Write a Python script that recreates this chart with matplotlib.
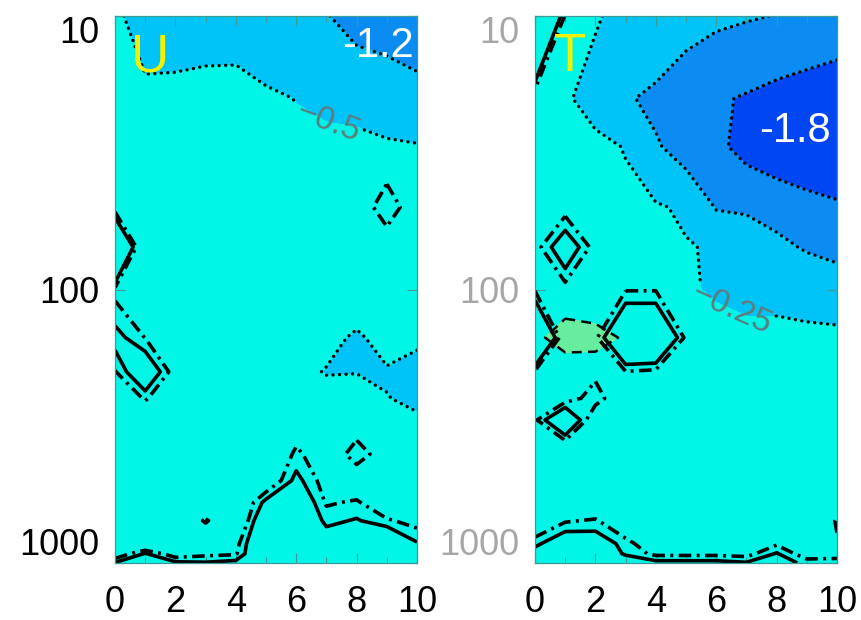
import numpy as np
import matplotlib
matplotlib.use("Agg")
import matplotlib.pyplot as plt
from matplotlib.ticker import FixedLocator, NullLocator, MultipleLocator

# ---- grid -------------------------------------------------------------
lags = [0, 1, 2, 3, 4, 5, 6, 7, 8, 9, 10]
pressure = [10, 20, 30, 50, 70, 100, 150, 200, 250, 300, 400, 500, 600, 700, 850, 925, 1000]

# ---- U anomaly (rows: pressure, cols: lag) ----------------------------
u_anom = [
    [-0.45, -0.62, -0.70, -0.72, -0.75, -0.78, -0.85, -0.98, -1.15, -1.20, -1.22],
    [-0.35, -0.43, -0.37, -0.30, -0.26, -0.43, -0.51, -0.58, -0.62, -0.70, -0.85],
    [-0.30, -0.30, -0.30, -0.28, -0.25, -0.30, -0.40, -0.40, -0.40, -0.45, -0.47],
    [-0.25, -0.25, -0.25, -0.22, -0.20, -0.22, -0.25, -0.30, -0.32, -0.35, -0.38],
    [-0.20, -0.20, -0.20, -0.20, -0.18, -0.20, -0.22, -0.25, -0.28, -0.30, -0.32],
    [-0.20, -0.20, -0.18, -0.18, -0.18, -0.20, -0.22, -0.25, -0.30, -0.30, -0.35],
    [-0.20, -0.20, -0.18, -0.18, -0.20, -0.22, -0.25, -0.40, -0.55, -0.38, -0.47],
    [-0.20, -0.20, -0.18, -0.18, -0.20, -0.25, -0.40, -0.52, -0.51, -0.53, -0.56],
    [-0.20, -0.20, -0.18, -0.18, -0.20, -0.22, -0.30, -0.35, -0.35, -0.49, -0.56],
    [-0.15, -0.15, -0.15, -0.15, -0.15, -0.18, -0.20, -0.25, -0.30, -0.40, -0.46],
    [-0.12, -0.12, -0.12, -0.12, -0.12, -0.15, -0.18, -0.20, -0.22, -0.28, -0.30],
    [-0.10, -0.10, -0.10, -0.10, -0.10, -0.12, -0.15, -0.15, -0.18, -0.20, -0.22],
    [-0.10, -0.10, -0.10, -0.10, -0.10, -0.10, -0.12, -0.12, -0.15, -0.15, -0.18],
    [-0.08, -0.08, -0.08, -0.08, -0.08, -0.10, -0.10, -0.10, -0.12, -0.12, -0.15],
    [-0.05, -0.05, -0.05, -0.05, -0.05, -0.08, -0.08, -0.08, -0.10, -0.10, -0.12],
    [-0.05, -0.05, -0.05, -0.05, -0.05, -0.05, -0.05, -0.08, -0.08, -0.10, -0.10],
    [-0.05, -0.05, -0.05, -0.05, -0.05, -0.05, -0.05, -0.05, -0.08, -0.08, -0.10],
]

# significance statistic for U
u_sig = [
    [1.00, 1.00, 1.00, 1.00, 1.00, 1.00, 1.00, 1.00, 1.00, 1.00, 1.00],
    [1.00, 1.00, 1.00, 1.00, 1.00, 1.00, 1.00, 1.00, 1.00, 1.00, 1.00],
    [1.00, 1.00, 1.00, 1.00, 1.00, 1.00, 1.00, 1.00, 1.00, 1.40, 1.00],
    [1.41, 1.00, 1.00, 1.00, 1.00, 1.00, 1.00, 1.00, 1.40, 1.85, 1.40],
    [3.79, 0.74, 1.00, 1.00, 1.00, 1.00, 1.00, 1.00, 1.00, 1.40, 1.00],
    [1.53, 0.80, 1.00, 1.00, 1.00, 1.00, 1.00, 1.00, 1.00, 1.00, 1.00],
    [2.13, 1.64, 1.00, 1.00, 1.00, 1.00, 1.00, 1.00, 1.00, 1.00, 1.00],
    [1.62, 2.51, 1.41, 1.00, 1.00, 1.00, 1.00, 1.00, 1.00, 1.00, 1.00],
    [1.00, 1.72, 1.00, 1.00, 1.00, 1.00, 1.00, 1.00, 1.00, 1.00, 1.00],
    [1.00, 1.00, 1.00, 1.00, 1.00, 1.00, 1.35, 1.00, 1.40, 1.00, 1.00],
    [1.00, 1.00, 1.00, 1.00, 1.00, 1.00, 1.75, 1.30, 1.85, 1.40, 1.00],
    [1.00, 1.00, 1.00, 1.00, 1.00, 1.20, 2.10, 1.45, 1.30, 1.00, 1.00],
    [1.00, 1.00, 1.00, 1.00, 1.00, 2.10, 2.50, 1.60, 1.70, 1.30, 1.20],
    [1.00, 1.00, 1.00, 1.72, 1.00, 2.60, 2.60, 1.85, 2.00, 1.70, 1.50],
    [1.00, 1.00, 1.00, 1.00, 1.50, 2.80, 2.80, 2.30, 2.40, 2.80, 2.00],
    [1.30, 2.00, 1.40, 1.55, 1.60, 2.80, 2.70, 2.40, 2.50, 2.60, 2.30],
    [2.00, 2.30, 2.05, 2.00, 2.10, 2.60, 2.60, 2.50, 2.50, 2.50, 2.40],
]

# ---- T anomaly --------------------------------------------------------
t_anom = [
    [0.00, -0.10, -0.22, -0.35, -0.45, -0.62, -0.68, -0.72, -0.76, -0.85, -0.95],
    [-0.05, -0.20, -0.40, -0.70, -0.85, -1.00, -1.18, -1.30, -1.45, -1.55, -1.62],
    [0.00, -0.05, -0.15, -0.27, -0.70, -0.95, -1.15, -1.40, -1.60, -1.75, -1.80],
    [0.00, -0.05, -0.10, -0.15, -0.20, -0.32, -0.78, -0.80, -0.85, -1.00, -1.15],
    [0.00, -0.05, -0.08, -0.12, -0.15, -0.22, -0.30, -0.50, -0.68, -0.78, -0.85],
    [0.05, 0.00, -0.05, -0.10, -0.15, -0.22, -0.28, -0.35, -0.40, -0.50, -0.55],
    [0.15, 0.45, 0.40, 0.20, 0.00, -0.10, -0.15, -0.15, -0.10, -0.10, -0.12],
    [0.00, -0.05, 0.00, 0.00, -0.05, -0.10, -0.10, -0.10, -0.10, -0.10, -0.10],
    [-0.05, -0.05, -0.05, -0.05, -0.05, -0.08, -0.10, -0.10, -0.10, -0.10, -0.10],
    [-0.05, -0.05, -0.05, -0.05, -0.05, -0.08, -0.08, -0.10, -0.10, -0.10, -0.10],
    [-0.05, -0.05, -0.05, -0.05, -0.05, -0.05, -0.08, -0.08, -0.08, -0.08, -0.08],
    [-0.05, -0.05, -0.05, -0.05, -0.05, -0.05, -0.05, -0.05, -0.05, -0.05, -0.05],
    [-0.05, -0.05, -0.05, -0.05, -0.05, -0.05, -0.05, -0.05, -0.05, -0.05, -0.05],
    [-0.05, -0.05, -0.05, -0.05, -0.05, -0.05, -0.05, -0.05, -0.05, -0.05, -0.05],
    [-0.05, -0.05, -0.05, -0.05, -0.05, -0.05, -0.05, -0.05, -0.05, -0.05, -0.05],
    [-0.05, -0.05, -0.05, -0.05, -0.05, -0.05, -0.05, -0.05, -0.05, -0.05, -0.05],
    [-0.05, -0.05, -0.05, -0.05, -0.05, -0.05, -0.05, -0.05, -0.05, -0.05, -0.05],
]

# significance statistic for T
t_sig = [
    [4.00, 1.60, 1.00, 1.00, 1.00, 1.00, 1.00, 1.00, 1.00, 1.00, 1.00],
    [1.24, 1.00, 1.00, 1.00, 1.00, 1.00, 1.00, 1.00, 1.00, 1.00, 1.00],
    [1.00, 1.00, 1.00, 1.00, 1.00, 1.00, 1.00, 1.00, 1.00, 1.00, 1.00],
    [1.00, 1.47, 1.00, 1.00, 1.00, 1.00, 1.00, 1.00, 1.00, 1.00, 1.00],
    [1.47, 2.38, 1.47, 1.00, 1.00, 1.00, 1.00, 1.00, 1.00, 1.00, 1.00],
    [1.60, 1.47, 1.00, 1.62, 1.62, 1.00, 1.00, 1.00, 1.00, 1.00, 1.00],
    [3.50, 1.20, 1.55, 3.00, 3.00, 1.55, 1.00, 1.00, 1.00, 1.00, 1.00],
    [1.575, 1.00, 1.55, 1.63, 1.55, 1.00, 1.00, 1.00, 1.00, 1.00, 1.00],
    [1.00, 1.43, 1.85, 1.20, 1.00, 1.00, 1.00, 1.00, 1.00, 1.00, 1.00],
    [1.57, 2.76, 1.17, 1.00, 1.00, 1.00, 1.00, 1.00, 1.00, 1.00, 1.00],
    [1.00, 0.80, 1.00, 1.00, 1.00, 1.00, 1.00, 1.00, 1.00, 1.00, 1.00],
    [1.00, 1.00, 1.00, 1.00, 1.00, 1.00, 1.00, 1.00, 1.00, 1.00, 1.00],
    [1.00, 1.00, 1.20, 1.00, 1.00, 1.00, 1.00, 1.00, 1.00, 1.00, 1.50],
    [1.20, 1.60, 1.70, 1.20, 1.00, 1.00, 1.00, 1.00, 1.00, 1.00, 1.70],
    [1.85, 2.40, 2.30, 1.80, 1.30, 1.30, 1.30, 1.30, 1.60, 1.30, 1.60],
    [2.20, 2.50, 2.40, 1.90, 1.55, 1.55, 1.55, 1.50, 2.00, 1.40, 1.50],
    [2.40, 2.50, 2.40, 2.30, 2.10, 2.10, 2.10, 2.00, 2.20, 1.85, 1.80],
]

# ---- labels and levels ------------------------------------------------
panel_names = ["U", "T"]
panel_minima = ["-1.2", "-1.8"]
u_fill_levels = [-3.0, -1.0, -0.5, 0.5, 3.0]
t_fill_levels = [-3.0, -1.25, -0.75, -0.25, 0.25, 3.0]
u_label_level = -0.5
t_label_level = -0.25
sig_levels = [1.65, 1.96]
x_ticks = [0, 2, 4, 6, 8, 10]
p_ticks = [10, 100, 1000]
p_tick_labels = ["10", "100", "1000"]

# ---- style ------------------------------------------------------------
DEEP = "#0046F2"
MID = "#0A8CF2"
LIGHT = "#00C4F8"
CYAN = "#00F6E6"
GREEN = "#66EE9E"
SPINE = "#3C9A98"
plt.rcParams["font.family"] = ["Liberation Sans", "DejaVu Sans"]

DOT = (0, (0.05, 1.9))
DASH = (0, (4, 2.5))
DASHDOT = (0, (3.5, 1.5, 0.8, 1.5))

fig = plt.figure(figsize=(8.61, 6.2), dpi=100)
ax_u = fig.add_axes([115 / 861, 57 / 620, 302 / 861, 547 / 620])
ax_t = fig.add_axes([535 / 861, 57 / 620, 302 / 861, 547 / 620])

X, P = np.meshgrid(np.array(lags, float), np.array(pressure, float))


def setup_axes(ax, ylabel_color):
    ax.set_yscale("log")
    ax.set_ylim(1000, 10)
    ax.set_xlim(0, 10)
    ax.yaxis.set_major_locator(FixedLocator(p_ticks))
    ax.yaxis.set_minor_locator(NullLocator())
    ax.set_yticklabels(p_tick_labels)
    ax.xaxis.set_major_locator(FixedLocator(x_ticks))
    ax.xaxis.set_minor_locator(MultipleLocator(1))
    ax.tick_params(axis="both", which="both", direction="in", top=True,
                   right=True, color=SPINE, width=0.8)
    ax.tick_params(axis="both", which="major", length=7)
    ax.tick_params(axis="both", which="minor", length=4)
    ax.tick_params(axis="x", labelsize=26, pad=16, labelcolor="black")
    ax.tick_params(axis="y", labelsize=26, pad=11, labelcolor=ylabel_color)
    vas = ["top", "center_baseline", "bottom"]
    for tick, va in zip(ax.yaxis.get_major_ticks(), vas):
        tick.label1.set_verticalalignment(va)
    for sp in ax.spines.values():
        sp.set_color(SPINE)
        sp.set_linewidth(0.9)


def dotted(cs):
    cs.set_capstyle("round")
    return cs


def draw_panel(ax, anom, sig, fill_levels, fill_colors, label_level, label_pos,
               name, ylabel_color):
    setup_axes(ax, ylabel_color)
    A = np.array(anom)
    S = np.array(sig)
    ax.contourf(X, P, A, levels=fill_levels, colors=fill_colors)
    inner = fill_levels[1:-1]
    neg = [lv for lv in inner if lv < 0 and lv != label_level]
    pos = [lv for lv in inner if lv > 0]
    if neg:
        dotted(ax.contour(X, P, A, levels=neg, colors="black",
                          linewidths=2.4, linestyles=[DOT]))
    clab = dotted(ax.contour(X, P, A, levels=[label_level], colors="black",
                             linewidths=2.4, linestyles=[DOT]))
    if pos:
        ax.contour(X, P, A, levels=pos, colors="black", linewidths=1.8,
                   linestyles=[DASH])
    ax.contour(X, P, S, levels=[sig_levels[0]], colors="black",
               linewidths=2.6, linestyles=[DASHDOT])
    ax.contour(X, P, S, levels=[sig_levels[1]], colors="black",
               linewidths=2.6, linestyles="solid")
    fmt = {label_level: f"\u2212{abs(label_level):g}"}
    ax.clabel(clab, fmt=fmt, manual=[label_pos], inline=True,
              inline_spacing=4, fontsize=24, colors="#5E7C7E")

    ax.text(0.115, 0.925, name, transform=ax.transAxes, color="#F2F200",
            fontsize=38, ha="center", va="center")
    return ax


draw_panel(ax_u, u_anom, u_sig, u_fill_levels, [MID, LIGHT, CYAN, GREEN],
           u_label_level, (7.1, 23.0), panel_names[0], "black")
draw_panel(ax_t, t_anom, t_sig, t_fill_levels, [DEEP, MID, LIGHT, CYAN, GREEN],
           t_label_level, (6.6, 112.0), panel_names[1], "#A6A6A6")

ax_u.text(0.99, 0.945, panel_minima[0], transform=ax_u.transAxes, color="white",
          fontsize=30, ha="right", va="center")
ax_t.text(0.98, 0.79, panel_minima[1], transform=ax_t.transAxes, color="white",
          fontsize=30, ha="right", va="center")

fig.savefig("out.png", dpi=100)
